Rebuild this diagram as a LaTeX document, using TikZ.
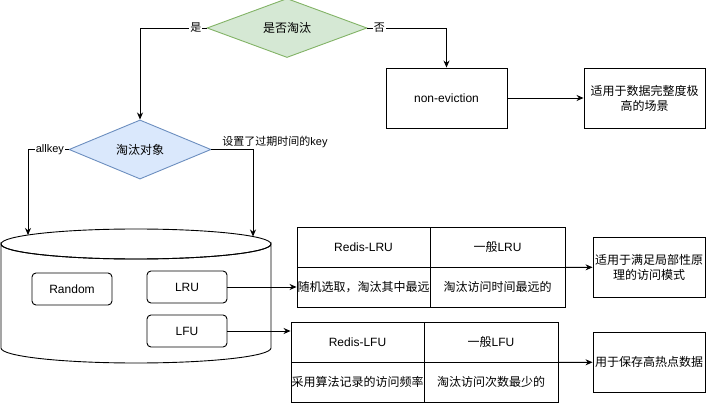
\documentclass[tikz,border=0pt]{standalone}
\usepackage{fontspec}
\setmainfont{Liberation Sans}
\newfontfamily\cjk{Noto Sans CJK SC}
\usetikzlibrary{shapes.geometric,arrows.meta}
\definecolor{greenfill}{HTML}{D5E8D4}
\definecolor{greenline}{HTML}{82B366}
\definecolor{bluefill}{HTML}{DAE8FC}
\definecolor{blueline}{HTML}{6C8EBF}
\newcommand{\zh}[1]{{\cjk #1}}

\begin{document}
\begin{tikzpicture}[x=1pt,y=1pt,>={Stealth[length=7pt,width=6pt]},line width=0.9pt,
    font=\fontsize{12}{15}\selectfont,
    decision/.style={diamond,draw,inner sep=0pt},
    proc/.style={draw,rectangle,inner sep=0pt,minimum height=60pt,align=center},
    algo/.style={draw,rectangle,rounded corners=4pt,fill=white,minimum width=80pt,minimum height=32pt},
    cell/.style={draw,rectangle,inner sep=0pt,minimum height=40pt},
    elbl/.style={fill=white,inner sep=1pt,font=\fontsize{11}{13}\selectfont}]

\useasboundingbox (0,0) rectangle (714,-403);

% decisions
\node[decision,fill=greenfill,draw=greenline,minimum width=160pt,minimum height=56pt]
    (evict) at (287,-28) {\zh{是否淘汰}};
\node[decision,fill=bluefill,draw=blueline,minimum width=142pt,minimum height=59pt]
    (target) at (140,-149.5) {\zh{淘汰对象}};

% no eviction branch
\node[proc,minimum width=121pt] (noevict) at (446.5,-98) {non-eviction};
\node[proc,minimum width=121pt] (box1) at (644.5,-98) {\zh{适用于数据完整度极}\\\zh{高的场景}};

% redis db cylinder
\draw[fill=white] (1,-244) -- (1,-348) arc[start angle=180,end angle=360,x radius=135,y radius=15]
    -- (271,-244) arc[start angle=0,end angle=-180,x radius=135,y radius=15] -- cycle;
\draw (136,-244) ellipse [x radius=135,y radius=15];
\coordinate (dbL) at (28,-235);
\coordinate (dbR) at (253,-236.5);

\node[algo] (rnd) at (72,-289) {Random};
\node[algo] (lru) at (187,-287) {LRU};
\node[algo] (lfu) at (187,-331) {LFU};

% LRU table
\node[cell,minimum width=133pt] (lruA) at (363.5,-247) {Redis-LRU};
\node[cell,minimum width=135pt] (lruB) at (497.5,-247) {\zh{一般}LRU};
\node[cell,minimum width=133pt] (lruC) at (363.5,-287) {\zh{随机选取，淘汰其中最远}};
\node[cell,minimum width=135pt] (lruD) at (497.5,-287) {\zh{淘汰访问时间最远的}};

% LFU table
\node[cell,minimum width=133pt] (lfuA) at (357.5,-342) {Redis-LFU};
\node[cell,minimum width=134pt] (lfuB) at (491,-342) {\zh{一般}LFU};
\node[cell,minimum width=133pt] (lfuC) at (357.5,-382) {\zh{采用算法记录的访问频率}};
\node[cell,minimum width=134pt] (lfuD) at (491,-382) {\zh{淘汰访问次数最少的}};

\node[proc,minimum width=112pt] (box3) at (649,-267) {\zh{适用于满足局部性原}\\\zh{理的访问模式}};
\node[proc,minimum width=112pt] (box4) at (649,-362) {\zh{用于保存高热点数据}};

% connectors
\draw[->] (evict.west) -| node[elbl,pos=0.08] {\zh{是}} (target.north);
\draw[->] (evict.east) -| node[elbl,pos=0.075] {\zh{否}} (noevict.north);
\draw[->] (noevict) -- (box1);
\draw[->] (target.west) -| node[elbl,pos=0.23] {allkey} (dbL);
\draw[->] (target.east) -| node[elbl,pos=0.5,xshift=22pt,yshift=7pt] {\zh{设置了过期时间的}key} (dbR);
\draw[->] (lru) -- (lruC);
\draw[->] (lfu.east) -- (lfu.east -| lfuA.west);
\draw[->] (lruB.south east) -- (box3);
\draw[->] (lfuB.south east) -- (box4);

\end{tikzpicture}
\end{document}
